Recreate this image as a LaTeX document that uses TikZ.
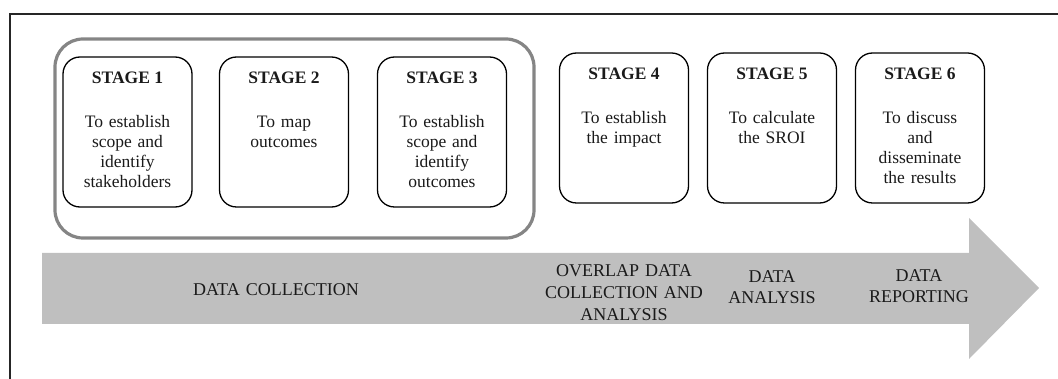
\documentclass[tikz,border=0pt]{standalone}
\usepackage{fontspec}
\setmainfont{Liberation Serif}
\definecolor{arrowgray}{HTML}{BFBFBF}
\definecolor{groupgray}{HTML}{858585}
\definecolor{txt}{HTML}{1A1A1A}
\tikzset{
  stagebox/.style={draw=black, line width=1.3pt, rounded corners=17pt, minimum width=129pt, minimum height=150pt, inner sep=0pt},
  stagetitle/.style={anchor=base, inner sep=0pt, font=\fontsize{17.5}{20}\selectfont\bfseries, text=txt},
  stagebody/.style={anchor=base, inner sep=0pt, text width=140pt, align=center, font=\fontsize{17.5}{20}\selectfont, text=txt},
  arrowlabel/.style={anchor=base, inner sep=0pt, text width=170pt, align=center, text=txt},
}
\begin{document}
\begin{tikzpicture}[x=1pt,y=-1pt]
\useasboundingbox (0,0) rectangle (1058,379);
% outer frame
\draw[line width=1.4pt, black!85] (10,379) -- (10,14) -- (1058,14);
% big arrow
\fill[arrowgray] (42,253) -- (969,253) -- (969,218) -- (1039,288) -- (969,359) -- (969,324) -- (42,324) -- cycle;
% group box
\draw[groupgray, line width=3.2pt, rounded corners=28pt] (55,39) rectangle (534,238);
% stage boxes
\node[stagebox] (s1) at (127.5,132) {};
\node[stagebox] (s2) at (284,132) {};
\node[stagebox] (s3) at (442,132) {};
\node[stagebox] (s4) at (624,128) {};
\node[stagebox] (s5) at (772,128) {};
\node[stagebox] (s6) at (920,128) {};
% titles
\node[stagetitle] (t1) at (127.5,84) {STAGE 1};
\node[stagetitle] (t2) at (284,84) {STAGE 2};
\node[stagetitle] (t3) at (442,84) {STAGE 3};
\node[stagetitle] (t4) at (624,80) {STAGE 4};
\node[stagetitle] (t5) at (772,80) {STAGE 5};
\node[stagetitle] (t6) at (920,80) {STAGE 6};
% bodies
\node[stagebody] (b1) at (127.5,128) {To establish\\scope and\\identify\\stakeholders};
\node[stagebody] (b2) at (284,128) {To map\\outcomes};
\node[stagebody] (b3) at (442,128) {To establish\\scope and\\identify\\outcomes};
\node[stagebody] (b4) at (624,124) {To establish\\the impact};
\node[stagebody] (b5) at (772,124) {To calculate\\the SROI};
\node[stagebody] (b6) at (920,124) {To discuss\\and\\disseminate\\the results};
% arrow labels
\node[arrowlabel, font=\fontsize{18}{22}\selectfont] (l1) at (276,296) {DATA COLLECTION};
\node[arrowlabel, font=\fontsize{18}{22}\selectfont] (l2) at (624,277) {OVERLAP DATA\\COLLECTION AND\\ANALYSIS};
\node[arrowlabel, font=\fontsize{18}{21}\selectfont] (l3) at (772,283) {DATA\\ANALYSIS};
\node[arrowlabel, font=\fontsize{18}{21}\selectfont] (l4) at (919,282) {DATA\\REPORTING};
\end{tikzpicture}
\end{document}
